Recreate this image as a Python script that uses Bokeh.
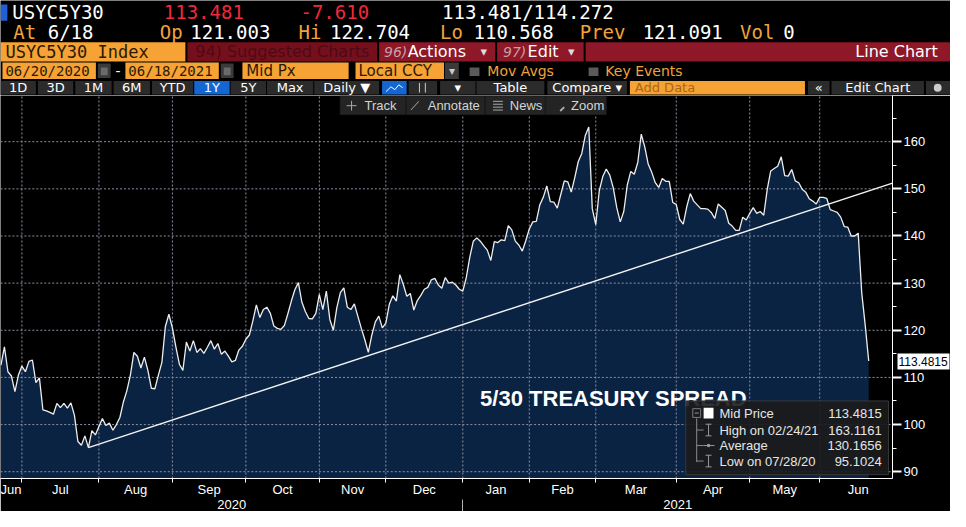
import numpy as np
from bokeh.plotting import figure
from bokeh.models import Range1d, LinearAxis, FixedTicker, CustomJSTickFormatter
from bokeh.layouts import column
from bokeh.embed import file_html
from bokeh.resources import INLINE
from bokeh.core.properties import value

# ---------------- data ----------------
# USYC5Y30 Index, daily mid price, 06/22/2020 .. 06/18/2021 (trading days)
mid_px = [
    112.6, 116.5, 111.2, 110.3, 107.0, 110.5, 112.4, 111.2, 113.4, 113.7,
    108.9, 109.9, 103.1, 102.9, 102.6, 102.2, 104.5, 103.6, 104.5, 103.5,
    104.6, 102.0, 96.4, 95.6, 97.6, 95.1024, 98.7, 97.8, 99.6, 101.3,
    99.8, 100.3, 98.8, 100.0, 101.5, 104.8, 107.2, 110.5, 115.3, 114.5,
    112.0, 114.3, 111.5, 107.7, 107.6, 110.5, 113.2, 120.8, 123.4, 120.5,
    116.5, 112.8, 111.5, 117.5, 115.6, 117.8, 115.3, 116.1, 115.1, 116.4,
    117.8, 116.0, 117.2, 114.9, 115.6, 114.5, 113.3, 113.6, 115.8, 116.6,
    118.1, 119.0, 122.0, 125.4, 122.7, 124.4, 124.9, 123.6, 120.9, 120.4,
    120.2, 121.0, 123.5, 126.2, 128.6, 130.1, 126.0, 124.0, 122.5, 122.4,
    123.6, 127.6, 124.4, 128.3, 122.3, 120.0, 124.8, 128.0, 129.0, 124.9,
    124.4, 125.6, 123.0, 120.4, 118.0, 115.3, 119.0, 121.8, 123.0, 120.5,
    121.5, 125.5, 127.3, 126.2, 131.8, 129.7, 127.2, 127.8, 124.3, 126.3,
    127.4, 128.7, 129.1, 130.7, 131.0, 129.6, 128.9, 131.2, 130.0, 130.2,
    129.6, 128.7, 128.3, 131.2, 135.5, 138.9, 139.6, 138.9, 137.9, 137.0,
    134.8, 138.8, 138.6, 139.2, 139.0, 142.2, 141.3, 138.9, 138.1, 136.8,
    139.0, 141.5, 143.0, 143.1, 146.6, 148.2, 150.6, 147.3, 147.2, 145.9,
    148.8, 151.7, 151.5, 149.3, 152.4, 155.8, 157.5, 161.3, 163.1161, 145.8,
    142.4, 149.6, 152.6, 154.2, 152.9, 150.2, 146.0, 143.0, 145.2, 150.8,
    153.7, 153.1, 155.6, 161.6, 158.9, 155.2, 153.5, 151.3, 150.3, 152.2,
    151.6, 151.6, 147.1, 146.7, 143.5, 142.5, 146.2, 149.0, 147.4, 146.6,
    145.8, 145.8, 145.7, 145.0, 143.7, 146.8, 146.1, 145.4, 142.7, 142.1,
    141.2, 141.2, 144.0, 143.4, 144.8, 146.0, 144.8, 145.2, 144.4, 149.9,
    153.8, 154.3, 154.8, 156.8, 152.8, 152.7, 154.1, 151.7, 151.3, 149.9,
    149.3, 147.9, 147.4, 146.8, 148.2, 148.2, 148.0, 145.6, 145.3, 145.0,
    144.0, 142.0, 141.9, 140.0, 140.0, 140.6, 128.0, 121.091, 113.4815,
]
day_idx = list(range(len(mid_px)))

# month boundaries (trading-day index) and labels
month_names = ["Jun", "Jul", "Aug", "Sep", "Oct", "Nov", "Dec",
               "Jan", "Feb", "Mar", "Apr", "May", "Jun"]
month_ticks = [6, 28, 49, 70, 91, 110, 132, 151, 170, 193, 214, 234]
year_names = ["2020", "2021"]
year_break = 132

y_major = [90, 100, 110, 120, 130, 140, 150, 160]
y_minor = [95, 105, 115, 125, 135, 145, 155, 165]

# trend line drawn on the chart (from the 07/28/20 low to the right edge)
trend_idx = [25, 254.8]
trend_val = [95.1024, 151.2]

# legend contents
legend_names = ["Mid Price", "High on 02/24/21", "Average", "Low on 07/28/20"]
legend_values = ["113.4815", "163.1161", "130.1656", "95.1024"]
last_price = 113.4815

ticker = "USYC5Y30"

# ---------------- layout constants ----------------
X_LO, X_HI = -0.12, 254.8
Y_LO, Y_HI = 88.56, 169.8
W = 950
HDR_H = 95
CH_H = 416
FRAME_W, FRAME_H = 896, 383          # approximate frame size in px (for dash lengths)

MONO = "DejaVu Sans Mono"
SANS = "DejaVu Sans"
LIB = "Liberation Sans"
ORANGE = "#f2a33a"
BOXOR = "#f6a234"
RED = "#8e1728"
GRID = "#8c90a2"

# ---------------- header figure ----------------
hdr = figure(width=W, height=HDR_H, x_range=Range1d(0, 966), y_range=Range1d(98, 0),
             toolbar_location=None, output_backend="svg", x_axis_location=None,
             y_axis_location=None, min_border=0, background_fill_color="black",
             border_fill_color="black", outline_line_color=None, title=None)
hdr.grid.visible = False


def hbox(x0, x1, y0, y1, color):
    hdr.quad(left=[x0], right=[x1], top=[y0], bottom=[y1], fill_color=color, line_color=None)


def htext(x, y, s, color, font=MONO, size="19px", align="left", style="normal"):
    hdr.text(x=[x], y=[y], text=[s], text_color=color, text_font=value(font),
             text_font_size=value(size), text_align=align, text_baseline="middle",
             text_font_style=style)


# row 1
hbox(0, 7, 4, 21, "#1f5fd8")
htext(12, 12, ticker, "white")
htext(166, 12, "113.481", "#f0283c")
htext(305, 12, "-7.610", "#f0283c")
htext(449, 12, "113.481/114.272", "white")
# row 2
for x, s, c in [(13, "At", ORANGE), (48, "6/18", "white"), (162, "Op", ORANGE),
                (193, "121.003", "white"), (303, "Hi", ORANGE), (335, "122.704", "white"),
                (447, "Lo", ORANGE), (481, "110.568", "white"), (589, "Prev", ORANGE),
                (653, "121.091", "white"), (752, "Vol", ORANGE), (796, "0", "white")]:
    htext(x, 33, s, c)
# row 3
hbox(0, 188, 43, 63, BOXOR)
htext(5, 53, ticker + " Index", "#2a1a05", size="17px")
hbox(190, 383, 43, 63, "#750f1c")
htext(198, 53, "94) Suggested Charts", "#4e0a14", font=SANS, size="16px")
hbox(385, 503, 43, 63, RED)
htext(390, 53, "96)", "#c9a0a6", font=SANS, size="14px", style="italic")
htext(414, 53, "Actions", "white", font=SANS, size="16px")
htext(488, 53, "▾", "#dddddd", font=SANS, size="13px")
hbox(505, 593, 43, 63, RED)
htext(511, 53, "97)", "#c9a0a6", font=SANS, size="14px", style="italic")
htext(536, 53, "Edit", "white", font=SANS, size="16px")
htext(577, 53, "▾", "#dddddd", font=SANS, size="13px")
hbox(595, 966, 43, 63, RED)
htext(953, 53, "Line Chart", "white", font=SANS, size="16px", align="right")
# row 4
hbox(2, 97, 64, 81, BOXOR)
htext(5, 73, "06/20/2020", "#2a1a05", size="14px")
hbox(99, 112, 65, 80, "#3a3a3a")
hbox(102, 109, 69, 77, "#6a6a6a")
htext(117, 73, "-", "white", font=SANS, size="14px")
hbox(127, 222, 64, 81, BOXOR)
htext(130, 73, "06/18/2021", "#2a1a05", size="14px")
hbox(224, 237, 65, 80, "#3a3a3a")
hbox(227, 234, 69, 77, "#6a6a6a")
hbox(246, 354, 64, 81, BOXOR)
htext(250, 73, "Mid Px", "#2a1a05", font=SANS, size="15px")
hbox(361, 451, 64, 81, BOXOR)
htext(364, 73, "Local CCY", "#2a1a05", font=SANS, size="15px")
hbox(452, 466, 64, 81, "#3a3a3a")
htext(459, 73, "▾", "#cccccc", font=SANS, size="12px", align="center")
hbox(477, 487, 69, 78, "#5a5a5a")
htext(495, 73, "Mov Avgs", ORANGE, font=SANS, size="14px")
hbox(598, 608, 69, 78, "#5a5a5a")
htext(615, 73, "Key Events", ORANGE, font=SANS, size="14px")
# row 5 buttons
buttons = [(0, 36, "1D"), (38, 74, "3D"), (76, 113, "1M"), (115, 152, "6M"), (154, 196, "YTD"),
           (197, 233, "1Y"), (234, 270, "5Y"), (271, 318, "Max"), (319, 385, "Daily ▼"),
           (388, 413, ""), (415, 444, ""), (447, 483, "▾"), (484, 553, "Table"),
           (556, 637, "Compare ▾"), (821, 843, "«"), (845, 939, "Edit Chart"), (941, 966, "")]
for x0, x1, s in buttons:
    col = "#1466d2" if s == "1Y" or x0 == 388 else "#2b2b2b"
    hbox(x0, x1, 83, 97, col)
    if s:
        htext((x0 + x1) / 2, 90, s, "white", font=SANS, size="13px", align="center")
hbox(640, 818, 83, 97, BOXOR)
htext(645, 90, "Add Data", "#a8661a", font=SANS, size="13px")
hdr.line(x=[392, 397, 401, 405, 409], y=[94, 89, 92, 87, 90], line_color="white", line_width=1)
hdr.segment(x0=[426, 432], y0=[85, 85], x1=[426, 432], y1=[95, 95], line_color="#cccccc")
hdr.circle(x=[953], y=[90], radius=4, fill_color="#cccccc", line_color=None)

# ---------------- chart figure ----------------
p = figure(width=W, height=CH_H, x_range=Range1d(X_LO, X_HI), y_range=Range1d(Y_LO, Y_HI),
           y_axis_location="right", toolbar_location=None, output_backend="svg", title=None,
           min_border_left=0, min_border_right=54, min_border_top=0, min_border_bottom=0,
           background_fill_color="black", border_fill_color="black", outline_line_color=None)
p.grid.visible = False

# keep the header and the chart frames independent
for fig in (hdr, p):
    try:
        fig.frame_align = False
    except Exception:
        pass

FX0, FX1, FY0, FY1 = 0.0, 902.0, 98.0, 493.0   # reference frame in picture pixels


def dx(px):
    return X_LO + (px - FX0) / (FX1 - FX0) * (X_HI - X_LO)


def dy(py):
    return Y_HI + (py - FY0) / (FY1 - FY0) * (Y_LO - Y_HI)


# area
p.varea(x=day_idx, y1=[Y_LO - 20] * len(day_idx), y2=mid_px, fill_color="#0a2343")

# dashed grid at the axis tick positions (dashes built as short segments, 2px on / 2px off)
ux = (X_HI - X_LO) / FRAME_W
uy = (Y_HI - Y_LO) / FRAME_H
hx = np.arange(X_LO, X_HI, 4 * ux)
vy = np.arange(Y_LO, Y_HI, 4 * uy)
gx0, gy0, gx1, gy1 = [], [], [], []
for t in y_major:
    gx0 += list(hx); gx1 += list(hx + 2 * ux); gy0 += [t] * len(hx); gy1 += [t] * len(hx)
for t in month_ticks:
    gy0 += list(vy); gy1 += list(vy + 2 * uy); gx0 += [t] * len(vy); gx1 += [t] * len(vy)
p.segment(x0=gx0, y0=gy0, x1=gx1, y1=gy1, line_color=GRID, line_width=1)

p.line(day_idx, mid_px, line_color="#eeeeee", line_width=1.3)
p.line(trend_idx, trend_val, line_color="#f4f4f4", line_width=1.4)

# y axis (right)
ya = p.yaxis[0]
ya.ticker = FixedTicker(ticks=y_major, minor_ticks=y_minor)
ya.axis_line_color = "white"
ya.major_tick_line_color = "white"
ya.major_tick_line_width = 2
ya.major_tick_out = 9
ya.major_tick_in = 0
ya.minor_tick_line_color = "white"
ya.minor_tick_out = 4
ya.minor_tick_in = 0
ya.major_label_text_color = "white"
ya.major_label_text_font = LIB
ya.major_label_text_font_size = "13px"
ya.major_label_standoff = 2

# last-price tag: an extra right axis whose single wide tick forms the white box
tag = LinearAxis(ticker=FixedTicker(ticks=[last_price]),
                 formatter=CustomJSTickFormatter(code="return tick.toFixed(4);"))
tag.axis_line_color = None
tag.major_tick_line_color = "white"
tag.major_tick_line_width = 16
tag.major_tick_in = 31
tag.major_tick_out = 21
tag.minor_tick_in = 0
tag.minor_tick_out = 0
tag.major_label_text_color = "black"
tag.major_label_text_font = LIB
tag.major_label_text_font_size = "12px"
tag.major_label_standoff = -51
p.add_layout(tag, "right")

# x axis: month boundaries as minor ticks, month names centred between them
edges = [-1] + month_ticks + [256]
month_pos = [(edges[i] + edges[i + 1]) / 2 for i in range(len(edges) - 1)]
LOOKUP = """
    for (let i = 0; i < pos.length; i++) { if (Math.abs(pos[i] - tick) < 0.01) return names[i]; }
    return "";
"""
xa = p.xaxis[0]
xa.ticker = FixedTicker(ticks=month_pos, minor_ticks=month_ticks)
xa.formatter = CustomJSTickFormatter(args=dict(pos=month_pos, names=month_names), code=LOOKUP)
xa.axis_line_color = "white"
xa.major_tick_out = 0
xa.major_tick_in = 0
xa.minor_tick_out = 4
xa.minor_tick_in = 0
xa.minor_tick_line_color = "white"
xa.major_label_text_color = "white"
xa.major_label_text_font = LIB
xa.major_label_text_font_size = "13px"
xa.major_label_standoff = -1

year_pos = [(X_LO + year_break) / 2, (year_break + X_HI) / 2]
xa2 = LinearAxis(ticker=FixedTicker(ticks=year_pos, minor_ticks=[year_break]),
                 formatter=CustomJSTickFormatter(args=dict(pos=year_pos, names=year_names),
                                                 code=LOOKUP))
xa2.axis_line_color = None
xa2.major_tick_out = 0
xa2.major_tick_in = 0
xa2.minor_tick_out = 16
xa2.minor_tick_in = 0
xa2.minor_tick_line_color = "#b0b0b0"
xa2.major_label_text_color = "white"
xa2.major_label_text_font = LIB
xa2.major_label_text_font_size = "13px"
xa2.major_label_standoff = -16
p.add_layout(xa2, "below")


def ptext(x, y, s, color="#e6e6e6", size="13px", align="left", style="normal"):
    p.text(x=[x], y=[y], text=[s], text_color=color, text_font=value(LIB),
           text_font_size=value(size), text_align=align, text_baseline="middle",
           text_font_style=style)


def pquad(x0, x1, y0, y1, fill, line=None, alpha=1.0):
    p.quad(left=[dx(x0)], right=[dx(x1)], top=[dy(y0)], bottom=[dy(y1)], fill_color=fill,
           fill_alpha=alpha, line_color=line)


def pseg(x0, y0, x1, y1, color="#8a8a8a", width=1):
    p.segment(x0=[dx(x0)], y0=[dy(y0)], x1=[dx(x1)], y1=[dy(y1)], line_color=color,
              line_width=width)


# big caption
ptext(dx(485), dy(410), "5/30 TREASURY SPREAD", color="white", size="22px", style="bold")

# toolbar overlay at top of the plot
pquad(343, 613, 98, 118, "#1b1b1b")
for x0, x1 in [(344, 409), (411, 489), (491, 550), (552, 612)]:
    pquad(x0, x1, 99, 117, "#242424")
for xt, s in [(368, "Track"), (432, "Annotate"), (515, "News"), (577, "Zoom")]:
    ptext(dx(xt), dy(108.5), s, color="#d4d4d4")
pseg(350, 108.5, 360, 108.5, "#aaaaaa")
pseg(355, 103.5, 355, 113.5, "#aaaaaa")
pseg(415, 113, 423, 104, "#aaaaaa")
for yy in (104, 107, 110, 113):
    pseg(498, yy, 508, yy, "#aaaaaa")
pseg(566, 114, 570, 110, "#aaaaaa", 2)

# legend box
pquad(693, 898, 413, 489, "#1b1b1b", line="#383838", alpha=0.9)
rows_y = [426, 443, 459, 475]
pquad(700, 708, 421, 430, None, line="#7a7a7a")
pseg(702, 425.5, 706, 425.5, "#9a9a9a")
pquad(711, 721, 420, 431, "white")
pseg(704, 431, 704, 476)
for yy in rows_y[1:]:
    pseg(704, yy, 711, yy)
for yy in (rows_y[1], rows_y[3]):
    pseg(716, yy - 6, 716, yy + 6, "#9a9a9a")
    pseg(713, yy - 6, 719, yy - 6, "#9a9a9a")
    pseg(713, yy + 6, 719, yy + 6, "#9a9a9a")
pseg(711, rows_y[2], 722, rows_y[2], "#9a9a9a")
p.circle(x=[dx(716)], y=[dy(rows_y[2])], radius=0.5, fill_color="#9a9a9a", line_color=None)
for yy, name, val in zip(rows_y, legend_names, legend_values):
    ptext(dx(727), dy(yy), name)
    ptext(dx(891), dy(yy), val, align="right")

layout = column(hdr, p, spacing=0)
open("out.html", "w").write(file_html(layout, INLINE))
